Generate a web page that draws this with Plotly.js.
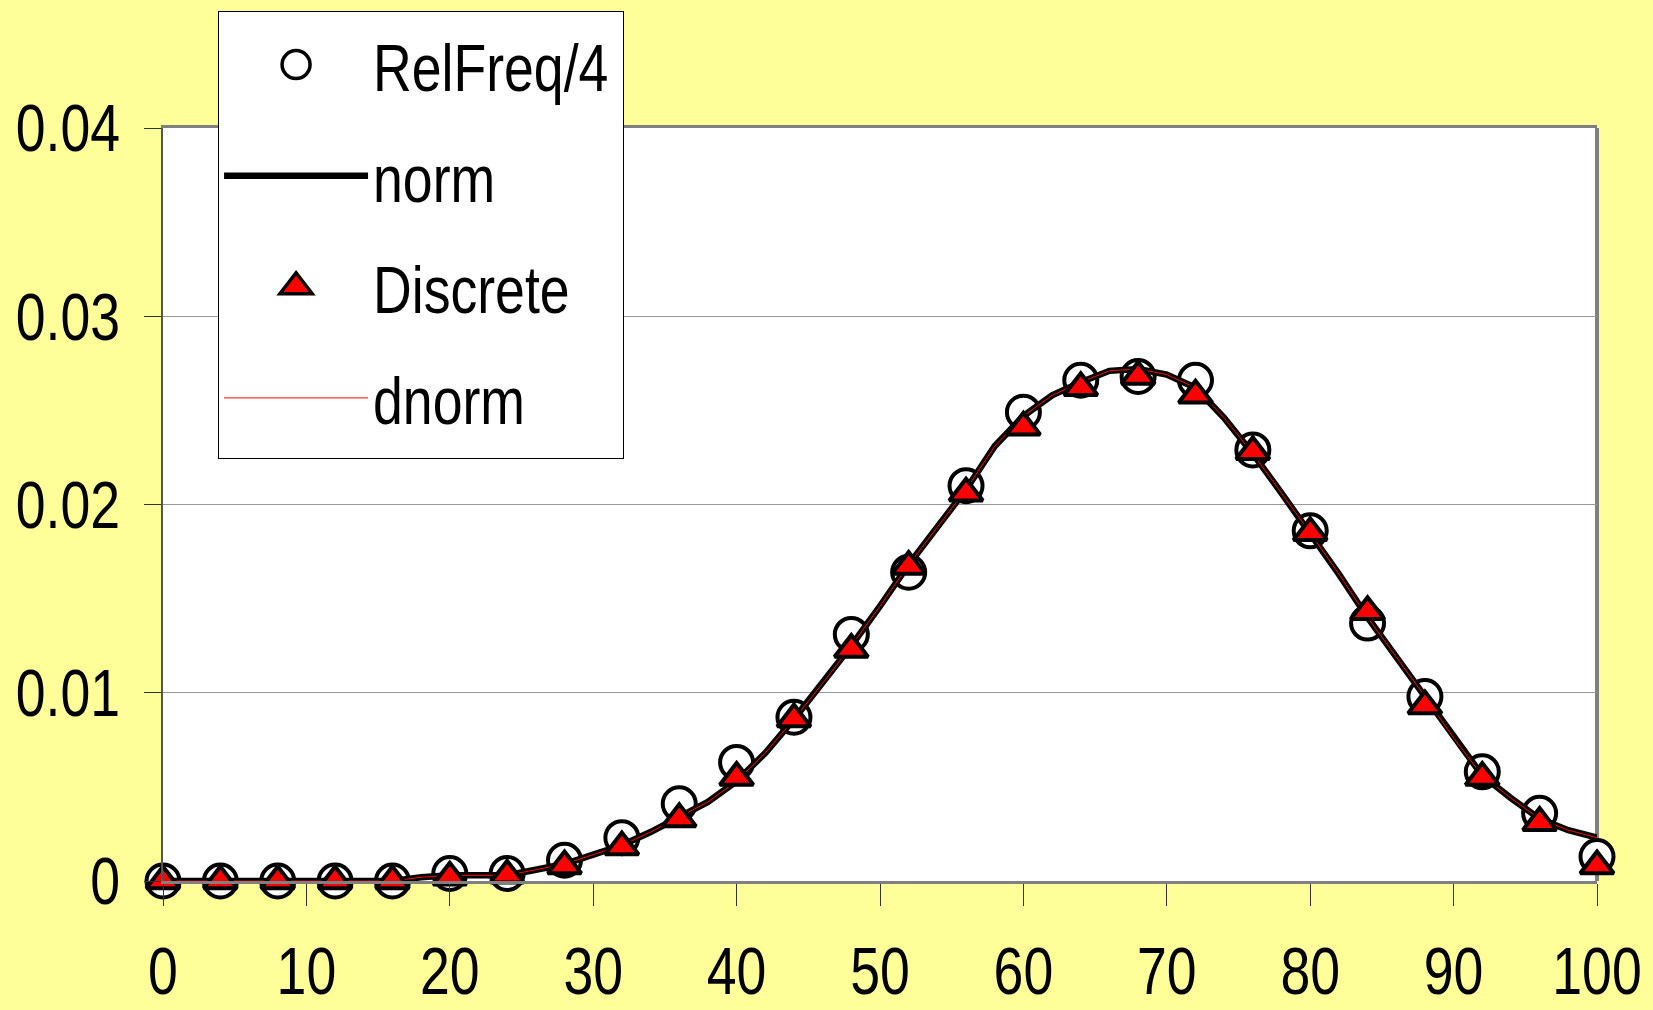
<!DOCTYPE html>
<html>
<head>
<meta charset="utf-8">
<script src="https://cdn.plot.ly/plotly-3.0.1.min.js"></script>
<style>
  html, body { margin: 0; padding: 0; background: #FFFF99; }
  #chart { width: 1653px; height: 1010px; }
</style>
</head>
<body>
<div id="chart"></div>
<script>
// Sample points (bins)
const binX = [0, 4, 8, 12, 16, 20, 24, 28, 32, 36, 40, 44, 48, 52, 56, 60, 64, 68, 72, 76, 80, 84, 88, 92, 96, 100];
const relFreq4 = [0, 0, 0, 0, 0, 0.0004, 0.0004, 0.0011, 0.0023, 0.0041, 0.0063, 0.0087, 0.0131, 0.0164, 0.0210, 0.0249, 0.0266, 0.0268, 0.0266, 0.0229, 0.0186, 0.0137, 0.0098, 0.0058, 0.0036, 0.0013];
const discrete = [0, 0, 0, 0, 0, 0.0002, 0.0003, 0.0008, 0.0018, 0.0033, 0.0055, 0.0086, 0.0123, 0.0167, 0.0206, 0.0241, 0.0262, 0.0268, 0.0258, 0.0228, 0.0185, 0.0143, 0.0093, 0.0055, 0.0031, 0.0008];

// Curve points
const curveX = [0, 2, 4, 6, 8, 10, 12, 14, 16, 18, 20, 22, 24, 26, 28, 30, 32, 34, 36, 38, 40, 42, 44, 46, 48, 50, 52, 54, 56, 58, 60, 62, 64, 66, 68, 70, 72, 74, 76, 78, 80, 82, 84, 86, 88, 90, 92, 94, 96, 98, 100];
const normY = [0, 0, 0, 0, 0, 0, 0, 0, 0, 0.0002, 0.0003, 0.0003, 0.0003, 0.0006, 0.0009, 0.0014, 0.0019, 0.0026, 0.0034, 0.0042, 0.0053, 0.0068, 0.0086, 0.0105, 0.0125, 0.0146, 0.0168, 0.0188, 0.0208, 0.0231, 0.0247, 0.0258, 0.0265, 0.0271, 0.0272, 0.0269, 0.0262, 0.0246, 0.0227, 0.0206, 0.0185, 0.0163, 0.0140, 0.0119, 0.0098, 0.0076, 0.0056, 0.0044, 0.0033, 0.0027, 0.0023];
const dnormY = [0, 0, 0, 0, 0, 0, 0, 0, 0, 0.0002, 0.0003, 0.0003, 0.0003, 0.0006, 0.0009, 0.0014, 0.0019, 0.0026, 0.0034, 0.0042, 0.0053, 0.0068, 0.0086, 0.0105, 0.0125, 0.0146, 0.0168, 0.0188, 0.0208, 0.0231, 0.0247, 0.0258, 0.0265, 0.0271, 0.0272, 0.0269, 0.0262, 0.0246, 0.0227, 0.0206, 0.0185, 0.0163, 0.0140, 0.0119, 0.0098, 0.0076, 0.0056, 0.0044, 0.0033, 0.0027, 0.0023];

const xTicks = [0, 10, 20, 30, 40, 50, 60, 70, 80, 90, 100];
const yTicks = [0, 0.01, 0.02, 0.03, 0.04];
const yTickText = ['0', '0.01', '0.02', '0.03', '0.04'];

const FONT = '"Liberation Sans Narrow", "Arial Narrow", "Liberation Sans", Arial, sans-serif';
const FSIZE = 67;

const traces = [
  {
    name: 'RelFreq/4', x: binX, y: relFreq4, type: 'scatter', mode: 'markers',
    marker: { symbol: 'circle', size: 33, color: '#FFFFFF', line: { color: '#000000', width: 4 } },
    legendrank: 1, legendgroup: 'a', cliponaxis: false
  },
  {
    name: 'norm', x: curveX, y: normY, type: 'scatter', mode: 'lines',
    line: { color: '#000000', width: 6.5 },
    legendrank: 2, legendgroup: 'b', cliponaxis: false
  },
  {
    name: 'dnorm', x: curveX, y: dnormY, type: 'scatter', mode: 'lines',
    line: { color: '#FF0000', width: 1 },
    legendrank: 4, legendgroup: 'd', cliponaxis: false
  },
  {
    name: 'Discrete', x: binX, y: discrete, type: 'scatter', mode: 'markers',
    marker: { symbol: 'triangle-up', size: 29, color: '#FF0000', line: { color: '#000000', width: 4 } },
    legendrank: 3, legendgroup: 'c', cliponaxis: false
  }
];

const layout = {
  width: 1653, height: 1010,
  paper_bgcolor: '#FFFF99',
  plot_bgcolor: '#FFFFFF',
  margin: { l: 163, r: 56, t: 128, b: 129, pad: 0 },
  font: { family: FONT, size: FSIZE, color: '#000000' },
  showlegend: true,
  legend: {
    x: 0.0384, y: 1.152, xanchor: 'left', yanchor: 'top',
    bgcolor: '#FFFFFF', bordercolor: '#000000', borderwidth: 1,
    font: { family: FONT, size: FSIZE, color: '#000000' },
    tracegroupgap: 21, itemwidth: 144
  },
  xaxis: {
    range: [0, 100], tickmode: 'array', tickvals: xTicks, ticktext: xTicks.map(String),
    showgrid: false, zeroline: false,
    ticks: 'outside', ticklen: 22, tickwidth: 1, tickcolor: '#333333',
    showline: true, linecolor: '#808080', linewidth: 3, mirror: true,
    ticklabelstandoff: 8,
    tickfont: { family: FONT, size: FSIZE, color: '#000000' }
  },
  yaxis: {
    range: [0, 0.04], tickmode: 'array', tickvals: yTicks, ticktext: yTickText,
    showgrid: true, gridcolor: '#999999', gridwidth: 1, zeroline: false,
    ticks: 'outside', ticklen: 17, tickwidth: 1, tickcolor: '#333333',
    showline: true, linecolor: '#555555', linewidth: 2,
    tickfont: { family: FONT, size: FSIZE, color: '#000000' }
  },
  shapes: [
    { type: 'line', xref: 'paper', yref: 'paper', x0: 1, x1: 1, y0: 0, y1: 1,
      line: { color: '#808080', width: 4 }, layer: 'below' }
  ]
};

// Condense text horizontally (the original uses a narrow sans face)
function squeeze(t, pivot, sx, dx) {
  const b = t.getBBox();
  const y = b.y + b.height / 2;
  let px = b.x + b.width / 2;
  if (pivot === 'start') px = b.x;
  if (pivot === 'end') px = b.x + b.width;
  const tr = t.getAttribute('transform') || '';
  t.setAttribute('transform', tr + ' translate(' + (px + dx) + ',' + y + ') scale(' + sx + ',1) translate(' + (-px) + ',' + (-y) + ')');
}

function condenseText(gd) {
  const sx = 0.8;
  const yLabelRight = 120;   // page x of right edge of y labels
  gd.querySelectorAll('.xtick text').forEach(function (t) { squeeze(t, 'middle', sx, 0); });
  gd.querySelectorAll('.legendtext').forEach(function (t) { squeeze(t, 'start', sx, 0); });
  const gdRect = gd.getBoundingClientRect();
  gd.querySelectorAll('.ytick text').forEach(function (t) {
    const r = t.getBoundingClientRect();
    const dx = (gdRect.left + yLabelRight) - r.right;
    squeeze(t, 'end', sx, dx);
  });
  // enlarge legend symbols (Plotly caps legend marker size)
  gd.querySelectorAll('.legend .legendpoints path.scatterpts').forEach(function (p) {
    const tr = p.getAttribute('transform') || '';
    p.setAttribute('transform', tr + ' scale(1.75)');
    p.style.strokeWidth = '2px';
  });
  // legend box size as in the original
  const bg = gd.querySelector('.legend rect.bg');
  if (bg) {
    const y0 = parseFloat(bg.getAttribute('y')) || 0;
    const h = parseFloat(bg.getAttribute('height')) || 0;
    bg.setAttribute('y', y0 - 3);
    bg.setAttribute('height', h + 12);
    bg.setAttribute('width', 405);
  }
}

const gd = document.getElementById('chart');
Plotly.newPlot(gd, traces, layout, { displayModeBar: false, staticPlot: true }).then(condenseText);
</script>
</body>
</html>
